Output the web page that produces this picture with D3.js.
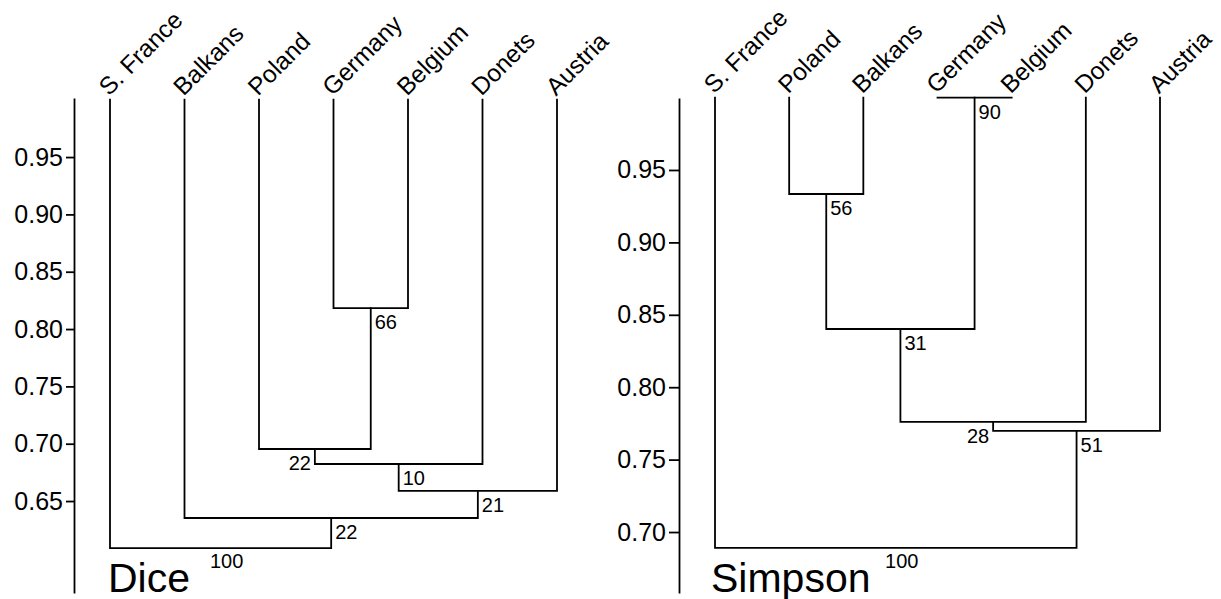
<!DOCTYPE html>
<html><head><meta charset="utf-8">
<script src="https://cdn.jsdelivr.net/npm/d3@7"></script>
<style>
body{margin:0;background:#fff}
svg{display:block}
text{font-family:"Liberation Sans",Arial,Helvetica,sans-serif;fill:#000}
</style>
</head><body>
<svg id="chart" width="1221" height="599"></svg>
<script>
// ---- data ----
const diceLeaves = ["S. France","Balkans","Poland","Germany","Belgium","Donets","Austria"];
// [left child, right child, similarity]; numbers refer to earlier merges
const diceMerges = [["Germany","Belgium",0.8183],["Poland",0,0.6954],[1,"Donets",0.6823],[2,"Austria",0.6588],["Balkans",3,0.6352],["S. France",4,0.6090]];
const diceSupport = [66,22,10,21,22,100];
const diceLabelSide = ["right","left","right","right","right","below"];
const diceTicks = [0.65,0.70,0.75,0.80,0.85,0.90,0.95];

const simpsonLeaves = ["S. France","Poland","Balkans","Germany","Belgium","Donets","Austria"];
const simpsonMerges = [["Germany","Belgium",1.0],["Poland","Balkans",0.9334],[1,0,0.8402],[2,"Donets",0.7760],[3,"Austria",0.7698],["S. France",4,0.6890]];
const simpsonSupport = [90,56,31,28,51,100];
const simpsonLabelSide = ["right","right","right","left","right","below"];
const simpsonTicks = [0.70,0.75,0.80,0.85,0.90,0.95];

// ---- drawing ----
const svg = d3.select("#chart");
const LW = 1.8;

function drawPanel(cfg){
  const g = svg.append("g");
  const y = d3.scaleLinear().domain(cfg.domain).range([593, 98]);
  const x = d3.scalePoint().domain(cfg.leaves).range(cfg.xRange);

  // axis
  const ax = g.append("g").attr("transform", `translate(${cfg.axisX},0)`)
    .call(d3.axisLeft(y).tickValues(cfg.ticks).tickFormat(d3.format(".2f"))
      .tickSize(cfg.tickLen).tickSizeOuter(0).tickPadding(3));
  ax.select(".domain").attr("stroke","#000").attr("stroke-width",LW);
  ax.selectAll(".tick line").attr("stroke","#000").attr("stroke-width",LW);
  ax.selectAll(".tick text").attr("font-size",25).attr("font-family",'"Liberation Sans",Arial,sans-serif').attr("fill","#000");

  // nodes
  const nodes = [];
  const pos = c => typeof c === "number" ? nodes[c] : {x: x(c), y: y(1.0)};
  cfg.merges.forEach((m,i) => {
    const a = pos(m[0]), b = pos(m[1]);
    const yh = y(m[2]);
    nodes.push({x:(a.x+b.x)/2, y:yh});
    g.append("path")
      .attr("d", `M${a.x},${a.y}V${yh}H${b.x}V${b.y}`)
      .attr("fill","none").attr("stroke","#000").attr("stroke-width",LW)
      .attr("stroke-linecap","square");
  });

  // support labels
  nodes.forEach((n,i) => {
    const side = cfg.sides[i];
    const t = g.append("text").attr("font-size",20).text(cfg.support[i]);
    if(side === "right") t.attr("x", n.x+4).attr("y", n.y+21);
    else if(side === "left") t.attr("x", n.x-4).attr("y", n.y+21).attr("text-anchor","end");
    else t.attr("x", n.x+6).attr("y", n.y+20).attr("text-anchor","middle");
  });

  // leaf labels
  g.selectAll("text.leaf").data(cfg.leaves).join("text").attr("class","leaf")
    .attr("font-size",24.5)
    .attr("transform", d => `translate(${x(d)-1},${y(1.0)-3}) rotate(-45)`)
    .text(d => d);

  // title
  g.append("text").attr("x", cfg.titleX).attr("y", 592).attr("font-size", 41).text(cfg.title);
}

drawPanel({leaves:diceLeaves, merges:diceMerges, support:diceSupport, sides:diceLabelSide,
  ticks:diceTicks, domain:[0.5698,1.0015], xRange:[110,557], axisX:74, tickLen:8,
  title:"Dice", titleX:108});
drawPanel({leaves:simpsonLeaves, merges:simpsonMerges, support:simpsonSupport, sides:simpsonLabelSide,
  ticks:simpsonTicks, domain:[0.6579,0.9997], xRange:[715,1160], axisX:679, tickLen:10,
  title:"Simpson", titleX:711});
</script>
</body></html>
